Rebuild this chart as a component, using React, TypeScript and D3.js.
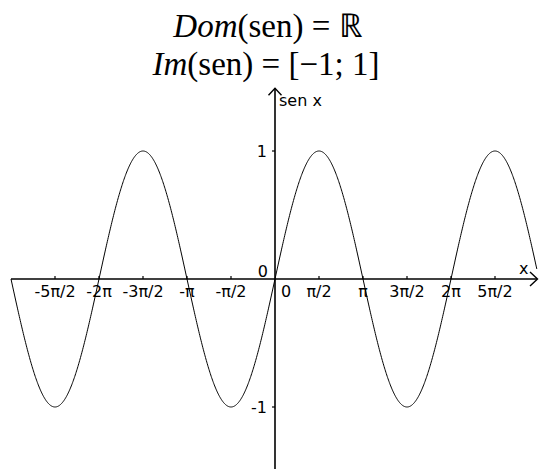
import React from "react";
import * as d3 from "d3";

const W = 539;
const H = 469;
const PI = Math.PI;

// x tick positions (multiples of π/2) and their labels
const xTickValues = [-5 * PI / 2, -2 * PI, -3 * PI / 2, -PI, -PI / 2, PI / 2, PI, 3 * PI / 2, 2 * PI, 5 * PI / 2];
const xTickLabels = ["-5π/2", "-2π", "-3π/2", "-π", "-π/2", "π/2", "π", "3π/2", "2π", "5π/2"];
const yTickValues = [1, -1];
const yTickLabels = ["1", "-1"];

const xDomain = [-3 * PI, 3 * PI];
const yDomain = [-1, 1];
const yAxisTop = 1.49;
const yAxisBottom = -1.6;

const titleLine1 = { italic: "Dom", rest: "(sen) = ℝ" };
const titleLine2 = { italic: "Im", rest: "(sen) = [−1; 1]" };

export default function App() {
  const x = d3.scaleLinear().domain(xDomain).range([11, 539]);
  const y = d3.scaleLinear().domain(yDomain).range([407, 151]);
  const x0 = x(0);
  const y0 = y(0);

  const samples = d3.range(xDomain[0], x.invert(537) + 1e-9, (xDomain[1] - xDomain[0]) / 1200);
  const line = d3
    .line<number>()
    .x((d) => x(d))
    .y((d) => y(Math.sin(d)));

  const font = "DejaVu Sans, sans-serif";
  const serif = "Liberation Serif, serif";
  const axisStroke = 1.6;

  return (
    <div style={{ position: "absolute", left: 0, top: 0 }}>
      <svg width={W} height={H} style={{ display: "block", background: "#fff" }}>
        {/* title */}
        <text x={268} y={37} textAnchor="middle" fontFamily={serif} fontSize={33} fill="#000">
          <tspan fontStyle="italic">{titleLine1.italic}</tspan>
          <tspan>{titleLine1.rest}</tspan>
        </text>
        <text x={266} y={75} textAnchor="middle" fontFamily={serif} fontSize={33} fill="#000">
          <tspan fontStyle="italic">{titleLine2.italic}</tspan>
          <tspan>{titleLine2.rest}</tspan>
        </text>

        {/* x axis */}
        <line x1={x(xDomain[0])} x2={537} y1={y0} y2={y0} stroke="#000" strokeWidth={axisStroke} />
        <polyline
          points={`${530},${y0 - 7} ${537.5},${y0} ${530},${y0 + 7}`}
          fill="none"
          stroke="#000"
          strokeWidth={1.4}
        />
        {/* y axis */}
        <line x1={x0} x2={x0} y1={y(yAxisTop)} y2={y(yAxisBottom)} stroke="#000" strokeWidth={axisStroke} />
        <polyline
          points={`${x0 - 6.5},${y(yAxisTop) + 7} ${x0},${y(yAxisTop)} ${x0 + 6.5},${y(yAxisTop) + 7}`}
          fill="none"
          stroke="#000"
          strokeWidth={1.4}
        />

        {/* x ticks */}
        {xTickValues.map((v, i) => (
          <g key={i}>
            <line x1={x(v)} x2={x(v)} y1={y0 - 3} y2={y0} stroke="#000" strokeWidth={1.2} />
            <text x={x(v)} y={y0 + 18} textAnchor="middle" fontFamily={font} fontSize={16} fill="#000">
              {xTickLabels[i]}
            </text>
          </g>
        ))}
        {/* y ticks */}
        {yTickValues.map((v, i) => (
          <g key={i}>
            <line x1={x0 - 3} x2={x0} y1={y(v)} y2={y(v)} stroke="#000" strokeWidth={1.2} />
            <text x={x0 - 8} y={y(v) + 6} textAnchor="end" fontFamily={font} fontSize={16} fill="#000">
              {yTickLabels[i]}
            </text>
          </g>
        ))}
        {/* origin labels */}
        <text x={x0 - 7} y={y0 - 2} textAnchor="end" fontFamily={font} fontSize={16} fill="#000">0</text>
        <text x={x0 + 6} y={y0 + 18} textAnchor="start" fontFamily={font} fontSize={16} fill="#000">0</text>

        {/* axis names */}
        <text x={x0 + 4} y={106} fontFamily={font} fontSize={16} fill="#000">sen x</text>
        <text x={519} y={274} fontFamily={font} fontSize={16} fill="#000">x</text>

        {/* sine curve */}
        <path d={line(samples) || ""} fill="none" stroke="#000" strokeWidth={1} />
      </svg>
    </div>
  );
}
